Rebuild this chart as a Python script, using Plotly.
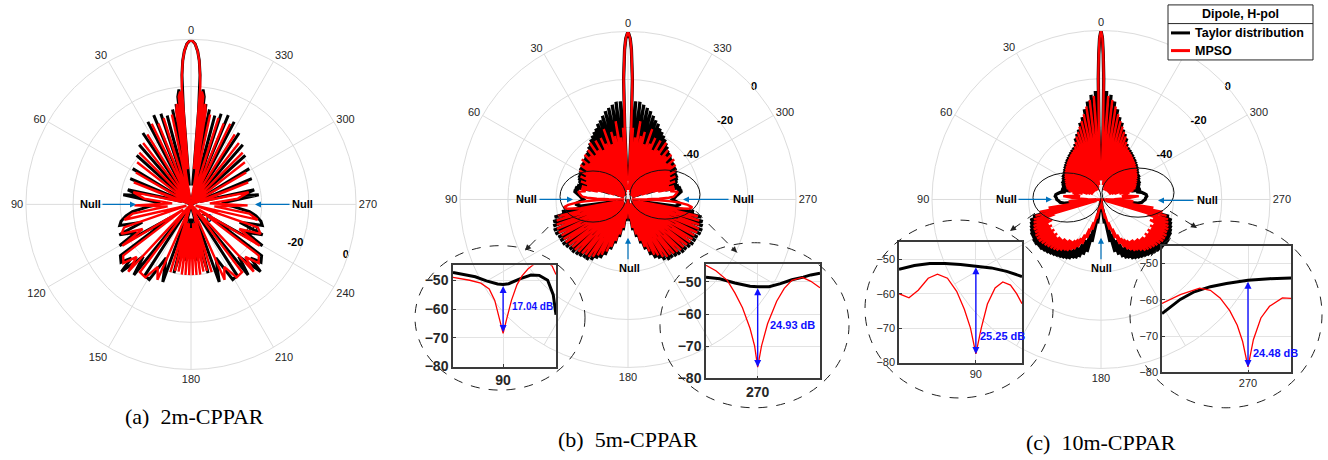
import numpy as np
import plotly.graph_objects as go

W, H = 1328, 460
FONT = "Liberation Sans"

# ---------------- (a) 2m-CPPAR : half pattern 0..180 deg (mirrored) ----------------
a_blk_th = [0, 1.5, 2.5, 3.3, 4.0, 4.6, 5.0, 5.6, 6.0, 7.0,
            7.6, 8.5, 9.5, 11, 12.5, 15, 16.5, 18.4, 20.5, 22.7,
            25, 27.6, 30.5, 34, 37.5, 41, 44.5, 48, 53, 58.5,
            62.5, 67, 72, 77, 80, 82, 86, 89, 93, 97,
            100, 103.5, 106.5, 110, 113, 117, 120, 123, 126, 129.6,
            132, 134, 137.5, 141, 144, 147, 151, 155, 160, 163,
            166, 170, 174, 177, 180]
a_blk_r = [0, -2, -5, -9, -15, -30, -62, -40, -21, -24,
           -45, -27, -50, -29, -68, -31, -66, -29.5, -70, -29,
           -70, -30.5, -70, -33.5, -70, -36.5, -70, -39, -70, -41,
           -70, -42, -66, -42.5, -48, -41, -55, -57, -52, -45,
           -42, -39.5, -38.5, -48, -37, -44, -35, -60, -33, -31.5,
           -36, -29, -40, -31.5, -68, -34, -33.5, -45, -35, -70,
           -40, -56, -46, -64, -55]
a_red_th = [0, 1.5, 2.5, 3.3, 4.0, 4.5, 4.8, 5.5, 6.5, 7.3,
            8, 9, 10, 12, 14, 17.6, 20, 22, 24, 26,
            29, 32, 35, 38, 42, 45, 49, 52, 56, 60,
            64, 69, 74, 78, 83, 87, 91, 95, 99, 103,
            106, 109, 113, 117, 121, 124, 127, 131, 134, 137,
            140, 143, 148, 152, 156, 160, 163, 165, 166.5, 168,
            169.5, 171, 172.5, 174, 175.5, 177, 178.5, 180]
a_red_r = [0, -2, -5, -9, -15, -20, -55, -22, -24, -55,
           -27, -30, -68, -31, -68, -31.6, -70, -33, -70, -32,
           -70, -35, -70, -37, -70, -39, -70, -41, -70, -43,
           -70, -44, -66, -45, -50, -62, -46, -60, -45, -41,
           -68, -40, -38, -47, -36, -66, -34, -32, -38, -31,
           -70, -34, -33.5, -40, -35, -70, -40, -64, -41, -62,
           -41, -60, -40, -62, -40, -60, -40, -60]

# ---------------- (b) 5m-CPPAR ----------------
b_main_th = [0, 0.8, 1.3, 2.1, 2.6, 3.1]
b_main_r = [0, -3, -7.5, -20, -40, -62]
b_blk_th = [4.5, 7, 9.5, 12, 14.5, 17, 19.5, 22, 24.5, 27,
            29.5, 32, 34.5, 37, 39.5, 42, 44.5, 47, 49.5, 52,
            54.5, 57, 59.5, 62, 64.5, 67, 69.5, 72, 74.5, 77,
            81, 85, 90, 95, 98, 100.5, 103.5, 106.5, 109.5, 112.5,
            115.5, 118.5, 121.5, 124.5, 127.5, 130.5, 133.5, 136.5, 139.5, 142.5,
            145.5, 148.5, 151.5, 154.5, 157.5, 160.5, 163.5, 167, 171, 175]
b_blk_pk = [-29, -29, -30, -31, -32, -33.5, -35, -36, -37.5, -38.5,
            -39.5, -40.5, -41.5, -42.5, -43.5, -44, -44.5, -45, -45.5, -45.5,
            -46, -46, -46.5, -47, -47, -47.5, -48, -48.5, -48, -47.5,
            -47.3, -49.5, -51.5, -48, -50, -42, -38.5, -37.5, -37, -36.5,
            -36.5, -37, -37, -37, -37.5, -38, -38, -38.5, -39, -39.5,
            -39.5, -40.5, -42, -43, -45, -48, -51, -54, -57, -61]
b_blk_nl = [-60, -52, -62, -52, -64, -53, -64, -54, -66, -55,
            -66, -56, -67, -57, -68, -58, -68, -59, -68, -60,
            -68, -60, -68, -60, -66, -58, -62, -56, -54, -49,
            -48.5, -50.5, -50, -49, -65, -50, -68, -47, -68, -46,
            -68, -46, -68, -46, -68, -47, -68, -47, -68, -48,
            -68, -49, -68, -50, -68, -55, -68, -64, -68, -70]
b_red_th = [4, 6.5, 9, 11.5, 14, 16.5, 19, 21.5, 24, 26.5,
            29, 31.5, 34, 36.5, 39, 41.5, 44, 46.5, 49, 51.5,
            54, 56.5, 59, 61.5, 64, 66.5, 69, 71.5, 74, 77,
            81, 84, 86.5, 88.5, 90, 91.5, 93.5, 97, 100.5, 103.5,
            106.5, 109.5, 112.5, 115.5, 118.5, 121.5, 124.5, 127.5, 130.5, 133.5,
            136.5, 139.5, 142.5, 145.5, 148.5, 151.5, 154.5, 157.5, 160.5, 163.5,
            167, 171, 175]
b_red_pk = [-40, -44, -37, -43, -41, -46, -39, -45, -42, -47,
            -42, -46, -41.5, -47, -43.5, -46, -44, -48, -44.5, -47,
            -45.5, -49, -46.5, -50, -48, -51, -49, -52, -50, -50,
            -49, -50, -51, -57, -68.5, -57, -48.5, -43, -50, -40,
            -39, -38.5, -38, -38, -38.5, -38.5, -38.5, -39, -39.5, -39.5,
            -40, -40.5, -41, -41, -42, -43.5, -44.5, -46.5, -49, -52,
            -55, -58, -62]
b_red_nl = [-66, -52, -66, -53, -67, -54, -67, -55, -68, -56,
            -68, -57, -68, -58, -68, -58, -68, -59, -68, -60,
            -68, -61, -68, -61, -67, -61, -64, -59, -57, -52,
            -49.5, -50.5, -53, -62, -62, -52, -45, -44.5, -68, -49,
            -68, -48, -68, -48, -68, -48, -68, -49, -68, -49,
            -68, -50, -68, -51, -68, -52, -68, -56, -68, -64,
            -68, -69, -70]

# ---------------- (c) 10m-CPPAR ----------------
c_main_th = [0, 0.5, 0.9, 1.3, 1.7, 2.0]
c_main_r = [0, -3, -10, -20, -40, -62]
c_blk_th = [3, 5.5, 8, 10.5, 13, 15.5, 18, 20.5, 23, 25.5,
            28, 30.5, 33, 35.5, 38, 40.5, 43, 45.5, 48, 50.5,
            53, 55.5, 58, 60.5, 63, 65.5, 68, 70.5, 73, 76,
            80, 84, 88, 92, 96, 100, 104, 106.5, 109, 111.5,
            114, 116.5, 119, 121.5, 124, 126.5, 129, 131.5, 134, 136.5,
            139, 141.5, 144, 146.5, 149, 151.5, 154, 156.5, 159, 162,
            165, 168, 172]
c_blk_pk = [-25, -26.5, -29, -32, -35, -37, -39.5, -41, -42.5, -44.5,
            -45.5, -46, -46.5, -47, -47.5, -48, -48.5, -49, -49.5, -50,
            -50.5, -51, -51, -51.5, -52, -52, -52.5, -53, -53, -53,
            -52.9, -51.2, -51.5, -52.5, -55, -52, -41, -39.5, -39, -38.5,
            -38, -37.5, -37.5, -37, -37, -37.5, -37.5, -38, -38.5, -39,
            -39.5, -40, -40.5, -41, -41.5, -42, -43, -43.5, -44.5, -46,
            -47.5, -52, -60]
c_blk_nl = [-55, -58, -60, -62, -63, -62, -64, -63, -65, -63,
            -64, -62, -65, -63, -64, -62, -65, -63, -64, -62,
            -63, -62, -63, -61, -62, -60, -61, -58, -57, -55,
            -52, -51, -51.7, -53, -68, -58, -44, -46, -43, -45,
            -42, -44, -42, -44, -42, -44, -42, -44, -43, -45,
            -44, -46, -45, -47, -46, -48, -48, -50, -52, -55,
            -60, -66, -70]
c_red_th = [4, 6.5, 9, 11.5, 14, 16.5, 19, 21.5, 24, 26.5,
            29, 31.5, 34, 36.5, 39, 41.5, 44, 46.5, 49, 51.5,
            54, 56.5, 59, 61.5, 64, 66.5, 69, 71.5, 74, 77,
            81.3, 85, 88.5, 90, 91.5, 93.5, 96, 99, 101.5, 104,
            106.5, 109, 111.5, 114, 116.5, 119, 121.5, 124, 126.5, 129,
            131.5, 134, 136.5, 139, 141.5, 144, 146.5, 149, 151.5, 154,
            157, 160, 164, 168, 172]
c_red_pk = [-27, -28.5, -31, -34, -36.5, -38.5, -40.5, -42, -44, -45.5,
            -46.5, -47, -47.5, -48, -48.5, -49, -49.5, -50, -50.5, -51,
            -51.5, -52, -52.5, -53, -53.5, -54, -54.5, -55, -56, -58,
            -61.2, -54.3, -64.5, -77.5, -63, -56.6, -62, -48, -44, -42,
            -41, -40.5, -40, -39.5, -39.5, -39, -39, -39, -39.5, -40,
            -40.5, -41, -41.5, -42, -43, -44, -44.5, -45.5, -46.5, -48,
            -50, -53, -57, -62, -66]
c_red_nl = [-62, -64, -63, -65, -64, -66, -64, -66, -65, -66,
            -64, -66, -65, -66, -64, -66, -65, -66, -64, -66,
            -65, -66, -64, -65, -63, -64, -62, -62, -60, -60,
            -58, -58, -70, -70, -58, -57.5, -66, -68, -67, -68,
            -50, -47, -48, -46, -47, -46, -47, -46, -47, -46,
            -47, -47, -48, -48, -49, -49, -50, -51, -52, -54,
            -57, -60, -64, -67, -70]

# ---------------- zoomed insets (angle in deg, level in dB) ----------------
bL_blk_x = [81, 83, 85, 87, 89, 90, 91, 93, 95, 96.5, 98, 99, 99.5]
bL_blk_y = [-47.3, -48, -48.8, -50.2, -51.3, -51.5, -51.2, -49.5, -48.2, -48.3, -50, -55, -62]
bL_red_x = [81, 84, 86, 87.5, 88.5, 89.3, 90, 90.7, 91.5, 92.5, 93.4, 94.5, 95.4, 96.5, 97.8, 98.8, 99.5]
bL_red_y = [-49, -50, -51, -53, -57, -63, -68.5, -63, -57, -51.5, -48.5, -46, -44.8, -43, -43.5, -45, -48]
bR_blk_x = [263.2, 265, 267, 269, 270, 271.5, 273, 274.5, 276, 277, 278.2]
bR_blk_y = [-48.5, -49, -50.3, -51.3, -51.5, -51.5, -50.5, -49.3, -48.5, -47.8, -47.3]
bR_red_x = [263.2, 264.5, 266, 267, 268, 269, 269.6, 270, 270.5, 271.3, 272.5, 273.5, 274.5, 275.9, 277, 278.2]
bR_red_y = [-44.8, -46.5, -49.5, -53.4, -58, -64.5, -70, -76.5, -70, -63, -56, -52, -49.5, -48.6, -49.8, -51.8]
cL_blk_x = [80, 82, 84, 86, 88, 90, 92, 94, 96]
cL_blk_y = [-52.9, -51.8, -51.2, -51.2, -51.5, -51.9, -52.5, -53.5, -55]
cL_red_x = [80, 81.3, 82.5, 83.8, 85, 86.3, 87.5, 88.5, 89.3, 90, 90.7, 91.5, 92.5, 93.5, 94.5, 95.3, 96]
cL_red_y = [-60, -61.2, -59, -55.5, -54.3, -55.5, -59.3, -64.5, -70, -77.5, -70, -63, -58.3, -56.6, -57.5, -60, -62.9]
cR_blk_x = [262, 263, 263.7, 265, 266.5, 268, 270, 272, 274]
cR_blk_y = [-63.8, -61.5, -59.9, -57.8, -56.4, -55.5, -54.6, -54.2, -54]
cR_red_x = [262, 263.7, 265.5, 266.5, 267.4, 268.3, 269, 269.5, 270, 270.5, 271.2, 272, 273.2, 274]
cR_red_y = [-61, -58.6, -56.8, -57.4, -59.5, -63, -67, -71.5, -78.5, -71, -65, -61.8, -59.5, -59.6]

null_depths = {"bL": ("17.04 dB", 90, -51.5, -68.0), "bR": ("24.93 dB", 270, -51.5, -76.5),
               "cL": ("25.25 dB", 90, -51.9, -77.5), "cR": ("24.48 dB", 270, -54.6, -78.5)}

titles = ["(a)  2m-CPPAR", "(b)  5m-CPPAR", "(c)  10m-CPPAR"]
legend_title = "Dipole, H-pol"
series_names = ["Taylor distribution", "MPSO"]
ang_ticks = list(range(0, 360, 30))
# angular labels covered by the zoom insets (b, c) and by the legend box (c)
hidden_ang = {0: [], 1: [120, 150, 210, 240], 2: [120, 150, 210, 240, 330]}

for arrs in [(a_blk_th, a_blk_r), (a_red_th, a_red_r), (b_blk_th, b_blk_pk, b_blk_nl),
             (b_red_th, b_red_pk, b_red_nl), (c_blk_th, c_blk_pk, c_blk_nl), (c_red_th, c_red_pk, c_red_nl)]:
    assert len(set(len(a) for a in arrs)) == 1, [len(a) for a in arrs]


def px(x):
    return x / W


def py(y):
    return 1 - y / H


def lobes(main_th, main_r, pk_th, pk_r, nl_r):
    th, r = list(main_th), list(main_r)
    for i in range(len(pk_th)):
        nxt = pk_th[i + 1] if i + 1 < len(pk_th) else 180
        th += [pk_th[i], (pk_th[i] + nxt) / 2]
        r += [pk_r[i], nl_r[i]]
    return th, r


def mirror(th, r):
    return th + [360 - t for t in reversed(th)], r + list(reversed(r))


fig = go.Figure()
patterns = [
    (mirror(a_blk_th, a_blk_r), mirror(a_red_th, a_red_r)),
    (mirror(*lobes(b_main_th, b_main_r, b_blk_th, b_blk_pk, b_blk_nl)),
     mirror(*lobes(b_main_th, b_main_r, b_red_th, b_red_pk, b_red_nl))),
    (mirror(*lobes(c_main_th, c_main_r, c_blk_th, c_blk_pk, c_blk_nl)),
     mirror(*lobes(c_main_th, c_main_r, c_red_th, c_red_pk, c_red_nl))),
]
for i, (blk, red) in enumerate(patterns):
    sp = "polar" if i == 0 else f"polar{i + 1}"
    fig.add_trace(go.Scatterpolar(theta=blk[0], r=blk[1], mode="lines", subplot=sp,
                                  line=dict(color="black", width=3 if i == 0 else 3.3), showlegend=False))
    fig.add_trace(go.Scatterpolar(theta=red[0], r=red[1], mode="lines", subplot=sp,
                                  line=dict(color="#ff0000", width=2.4), showlegend=False))

# polar layout
centers = [(191, 208, 168, -15, ["-60", "-40", "-20", "0"]),
           (628, 203, 171, 45, ["", "-40", "-20", "0"]),
           (1101, 203, 172, 45, ["", "-40", "-20", "0"])]
GRID = "#dcdcdc"
for i, (cx, cy, R, rang, rtext) in enumerate(centers):
    key = "polar" if i == 0 else f"polar{i + 1}"
    atext = [("" if t in hidden_ang[i] else str(t)) for t in ang_ticks]
    fig.layout[key] = dict(
        domain=dict(x=[px(cx - R), px(cx + R)], y=[py(cy + R), py(cy - R)]),
        bgcolor="rgba(0,0,0,0)",
        angularaxis=dict(rotation=90, direction="counterclockwise", tickvals=ang_ticks,
                         ticktext=atext, showgrid=True, gridcolor=GRID,
                         gridwidth=1, showline=True, linecolor=GRID, linewidth=1, ticks="",
                         tickfont=dict(family=FONT, size=11, color="#262626")),
        radialaxis=dict(range=[-70, 0], tickvals=[-60, -40, -20, 0], ticktext=rtext, angle=rang,
                        tickangle=rang, showline=False, ticks="", gridcolor=GRID, gridwidth=1,
                        layer="below traces",
                        tickfont=dict(family=FONT, size=11, color="black", weight="bold")),
    )

# insets
insets = [
    ("bL", bL_blk_x, bL_blk_y, bL_red_x, bL_red_y, (453, 556, 270, 373), [81, 99.5], [-80, -44.8], 90, 14, "bold", 91.3, -59),
    ("bR", bR_blk_x, bR_blk_y, bR_red_x, bR_red_y, (706, 820, 269, 385), [263.2, 278.2], [-80, -44.5], 270, 14, "bold", 271.3, -63.5),
    ("cL", cL_blk_x, cL_blk_y, cL_red_x, cL_red_y, (899, 1022, 246, 369), [80, 96], [-80, -44.9], 90, 11, "normal", 90.3, -72.3),
    ("cR", cR_blk_x, cR_blk_y, cR_red_x, cR_red_y, (1162, 1291, 250, 379), [262, 274], [-80, -45.1], 270, 11, "normal", 270.3, -74.6),
]
annotations = []
shapes = []
for k, (name, bx, by, rx, ry, box, xr, yr, xt, fs, fw, lx, ly) in enumerate(insets):
    n = "" if k == 0 else str(k + 1)
    x0, x1, y0, y1 = box
    fig.add_trace(go.Scatter(x=bx, y=by, mode="lines", xaxis="x" + n, yaxis="y" + n,
                             line=dict(color="black", width=3), showlegend=False))
    fig.add_trace(go.Scatter(x=rx, y=ry, mode="lines", xaxis="x" + n, yaxis="y" + n,
                             line=dict(color="#ff0000", width=1.3), showlegend=False))
    tf = dict(family=FONT, size=fs, color="#262626", weight=fw)
    fig.layout["xaxis" + n] = dict(domain=[px(x0), px(x1)], range=xr, anchor="y" + n,
                                   tickvals=[xt], ticktext=[str(xt)], showgrid=True, gridcolor="#e3e3e3",
                                   showline=True, mirror=True, linecolor="#3a3a3a", linewidth=1.5,
                                   ticks="inside", ticklen=3, tickcolor="#3a3a3a", zeroline=False, tickfont=tf)
    fig.layout["yaxis" + n] = dict(domain=[py(y1), py(y0)], range=yr, anchor="x" + n,
                                   tickvals=[-80, -70, -60, -50], showgrid=True, gridcolor="#e3e3e3",
                                   showline=True, mirror=True, linecolor="#3a3a3a", linewidth=1.5,
                                   ticks="inside", ticklen=3, tickcolor="#3a3a3a", zeroline=False, tickfont=tf)
    txt, xa, ytop, ybot = null_depths[name]
    annotations.append(dict(xref="x" + n, yref="y" + n, axref="x" + n, ayref="y" + n,
                            x=xa, y=ybot, ax=xa, ay=ytop, text="", showarrow=True,
                            arrowhead=2, arrowside="end+start", arrowsize=1, arrowwidth=1.4,
                            arrowcolor="#1010ff"))
    annotations.append(dict(xref="x" + n, yref="y" + n, x=lx, y=ly, text=txt, showarrow=False,
                            xanchor="left", yanchor="middle",
                            font=dict(family=FONT, size=10 if k == 0 else 11, color="#1010ff", weight="bold")))

# dashed zoom circles and solid ellipses
for (x0, x1, y0, y1) in [(415, 585, 250, 397), (660, 849, 247, 415), (865, 1053, 224, 405), (1130, 1322, 225, 415)]:
    shapes.append(dict(type="circle", xref="paper", yref="paper", x0=px(x0), x1=px(x1),
                       y0=py(y1), y1=py(y0), line=dict(color="#222", width=1, dash="dash")))
for (x0, x1, y0, y1) in [(560, 626, 174, 226), (630, 700, 173, 223), (1033, 1101, 176, 226), (1102, 1174, 171, 221)]:
    shapes.append(dict(type="circle", xref="paper", yref="paper", x0=px(x0), x1=px(x1),
                       y0=py(y1), y1=py(y0), line=dict(color="#111", width=1)))


def arrow(x0, y0, x1, y1, color, dashed=False):
    d = np.hypot(x1 - x0, y1 - y0)
    ux, uy = (x1 - x0) / d, (y1 - y0) / d
    if dashed:
        shapes.append(dict(type="line", xref="paper", yref="paper", x0=px(x0), y0=py(y0),
                           x1=px(x1), y1=py(y1), line=dict(color=color, width=1, dash="dash")))
        ax, ay = -ux * 9, -uy * 9
    else:
        ax, ay = x0 - x1, y0 - y1
    annotations.append(dict(xref="paper", yref="paper", x=px(x1), y=py(y1), ax=ax, ay=ay,
                            text="", showarrow=True, arrowhead=2, arrowsize=1, arrowwidth=1.2,
                            arrowcolor=color))


def label(x, y, text, size, anchor="center", **font):
    annotations.append(dict(xref="paper", yref="paper", x=px(x), y=py(y), text=text, showarrow=False,
                            xanchor=anchor, yanchor="middle", borderpad=0,
                            font=dict(family=font.pop("family", FONT), size=size, color="black", **font)))


for a in [(561, 218, 525, 255), (696, 215, 737, 257), (1035, 217, 1010, 235), (1170, 215, 1197, 232)]:
    arrow(*a, "#222", dashed=True)

BLUE = "#0072bd"
for (tx, ty, x0, y0, x1, y1) in [(90, 208, 101, 208, 136, 208), (302, 208, 291, 208, 255, 208),
                                 (526, 203, 538, 203, 573, 203), (743, 203, 730, 203, 683, 203),
                                 (629, 273, 628, 265, 628, 242),
                                 (1006, 203, 1017, 203, 1052, 203), (1207, 204, 1195, 204, 1158, 204),
                                 (1101, 273, 1101, 265, 1101, 242)]:
    arrow(x0, y0, x1, y1, BLUE)
    label(tx, ty, "Null", 11, weight="bold")

# sub-captions
for (tx, ty), t in zip([(194, 424), (628, 447), (1101, 450)], titles):
    label(tx, ty, t, 22, family="Liberation Serif")

# legend box
shapes.append(dict(type="rect", xref="paper", yref="paper", x0=px(1168), x1=px(1313), y0=py(61), y1=py(5),
                   line=dict(color="#262626", width=1), fillcolor="white"))
shapes.append(dict(type="line", xref="paper", yref="paper", x0=px(1168), x1=px(1313), y0=py(24), y1=py(24),
                   line=dict(color="#262626", width=1)))
label(1240.5, 14.5, legend_title, 12.5, weight="bold")
for (yy, col, name) in [(33.5, "black", series_names[0]), (51.5, "#ff0000", series_names[1])]:
    shapes.append(dict(type="line", xref="paper", yref="paper", x0=px(1171), x1=px(1190), y0=py(yy), y1=py(yy),
                       line=dict(color=col, width=3)))
    label(1194, yy, name, 12.5, anchor="left", weight="bold")

fig.update_layout(width=W, height=H, margin=dict(l=0, r=0, t=0, b=0), paper_bgcolor="white",
                  plot_bgcolor="white", showlegend=False, annotations=annotations, shapes=shapes)

post = """
var gd = document.getElementById('{plot_id}');
var svg = gd.querySelector('.main-svg');
var pol = svg.querySelector('.polarlayer');
var car = svg.querySelector('.cartesianlayer');
if (pol && car) { pol.parentNode.insertBefore(car, pol.nextSibling); }
"""
fig.write_html("out.html", post_script=post, config={"displayModeBar": False})
